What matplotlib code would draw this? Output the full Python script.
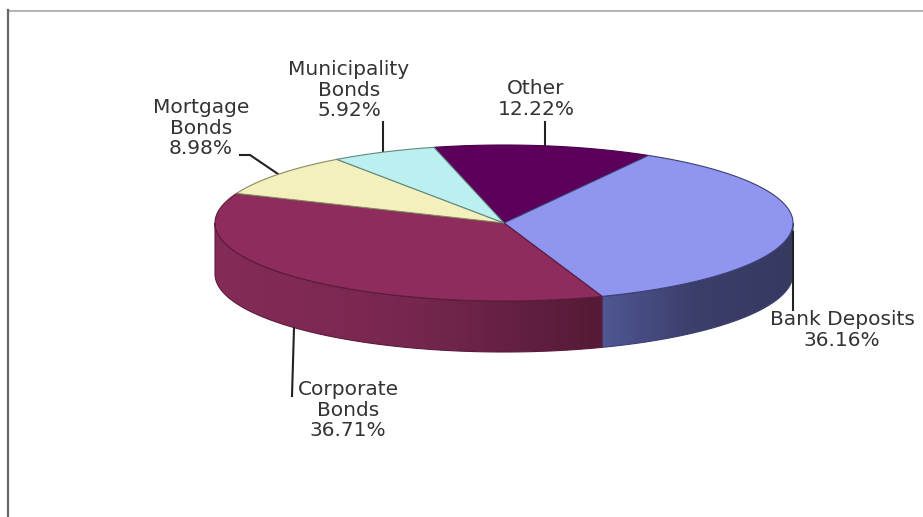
import numpy as np
import matplotlib
matplotlib.use("Agg")
import matplotlib.pyplot as plt
from matplotlib.patches import Polygon
from matplotlib.colors import LinearSegmentedColormap

# shares, clockwise starting from "Other"
names = ["Other", "Bank Deposits", "Corporate\nBonds", "Mortgage\nBonds", "Municipality\nBonds"]
shares = [12.22, 36.16, 36.71, 8.98, 5.92]
top_colors = ["#5c005c", "#9095f0", "#8e2d5d", "#f4f0bd", "#bcf0f0"]
edge_colors = ["#4a004a", "#3c3f70", "#5c1a3c", "#8a8a60", "#5f8a80"]
side_colors = {1: ["#4f5794", "#3b3e69", "#363960"], 2: ["#852b58", "#77274f", "#541a36"]}

# pie placement in pixels
cx, cy, rx, ry = 504, 223, 289, 78
depth = 51
start_angle = 104.0   # left edge of "Other" going clockwise

label_pos = [(536, 99), (842, 330), (348, 410), (201, 128), (349, 90)]
leaders = [
    ([545, 545], [147, 122]),
    ([792.5, 792.5], [232, 310]),
    ([294, 292], [328, 396]),
    ([240, 250, 278], [155, 155, 174]),
    ([383, 383], [151, 122]),
]


def arc(t0, t1, n=120):
    t = np.radians(np.linspace(t0, t1, n))
    return cx + rx * np.cos(t), cy - ry * np.sin(t)


fig = plt.figure(figsize=(9.23, 5.17), dpi=100, facecolor="white")
ax = fig.add_axes([0, 0, 1, 1])
ax.set_xlim(0, 923)
ax.set_ylim(517, 0)
ax.axis("off")

# frame left over from the screenshot
ax.plot([8, 923], [10.5, 10.5], color="#a8a8a8", lw=1.2)
ax.plot([8, 8], [10, 517], color="#666666", lw=1.6)

angles = start_angle - np.cumsum([0] + shares) * 3.6

# side walls, only the part facing us
for i, col in side_colors.items():
    t0 = min(angles[i], 0.0)
    t1 = max(angles[i + 1], -180.0)
    x, y = arc(t0, t1)
    pts = np.column_stack([np.r_[x, x[::-1]], np.r_[y, y[::-1] + depth]])
    wall = Polygon(pts, closed=True, facecolor="none", edgecolor=edge_colors[i], lw=0.8, zorder=3)
    ax.add_patch(wall)
    cmap = LinearSegmentedColormap.from_list("wall", col)
    grad = np.linspace(0, 1, 256).reshape(1, -1)
    im = ax.imshow(grad, cmap=cmap, aspect="auto", zorder=2,
                   extent=[x.min(), x.max(), y.max() + depth, y.min()])
    im.set_clip_path(wall)
ax.set_xlim(0, 923)
ax.set_ylim(517, 0)

# top face
for i in range(len(shares)):
    x, y = arc(angles[i], angles[i + 1])
    pts = np.column_stack([np.r_[cx, x], np.r_[cy, y]])
    ax.add_patch(Polygon(pts, closed=True, facecolor=top_colors[i],
                         edgecolor=edge_colors[i], lw=0.8, zorder=4))

for lx, ly in leaders:
    ax.plot(lx, ly, color="#222222", lw=1.5, zorder=3.5)

for i, name in enumerate(names):
    ax.text(label_pos[i][0], label_pos[i][1], "%s\n%.2f%%" % (name, shares[i]),
            ha="center", va="center", fontsize=14.5, color="#333333",
            family="DejaVu Sans", linespacing=1.1, zorder=5)

fig.savefig("out.png", dpi=100)
